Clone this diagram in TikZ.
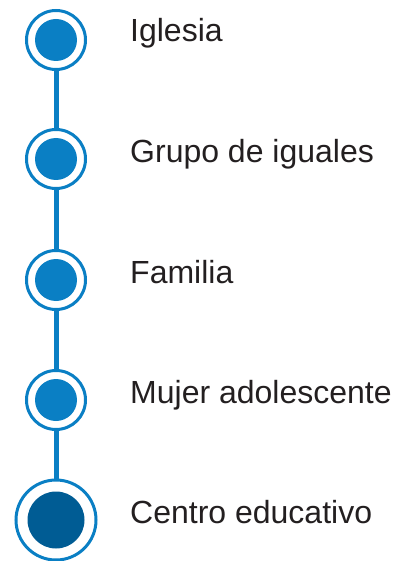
\documentclass[tikz,border=0pt]{standalone}
\usepackage{fontspec}
\setmainfont{Liberation Sans}
\definecolor{ringblue}{HTML}{0A7FC4}
\definecolor{darkblue}{HTML}{005C94}
\definecolor{txt}{HTML}{231F20}
\begin{document}
\begin{tikzpicture}[x=1pt,y=-1pt,
  ring/.style={circle,draw=ringblue,line width=3pt,fill=white,minimum size=59pt,inner sep=0pt},
  bigring/.style={ring,minimum size=80pt},
  dot/.style={circle,fill=ringblue,minimum size=42pt,inner sep=0pt},
  bigdot/.style={circle,fill=darkblue,minimum size=57pt,inner sep=0pt},
  link/.style={draw=ringblue,line width=5pt},
  lbl/.style={anchor=base west,inner sep=0pt,text=txt,font=\fontsize{32}{38}\selectfont}]
\useasboundingbox (0,0) rectangle (392,561);
\node[ring] (o1) at (56,40) {};
\node[ring] (o2) at (56,159) {};
\node[ring] (o3) at (56,280) {};
\node[ring] (o4) at (56,400) {};
\node[bigring] (o5) at (56,520) {};
\node[dot] (d1) at (o1) {};
\node[dot] (d2) at (o2) {};
\node[dot] (d3) at (o3) {};
\node[dot] (d4) at (o4) {};
\node[bigdot] (d5) at (o5) {};
\draw[link] (o1) -- (o2);
\draw[link] (o2) -- (o3);
\draw[link] (o3) -- (o4);
\draw[link] (o4) -- (o5);
\node[lbl] (t1) at (130,42) {Iglesia};
\node[lbl] (t2) at (130,163) {Grupo de iguales};
\node[lbl] (t3) at (130,283) {Familia};
\node[lbl] (t4) at (130,403) {Mujer adolescente};
\node[lbl] (t5) at (130,523) {Centro educativo};
\end{tikzpicture}
\end{document}
